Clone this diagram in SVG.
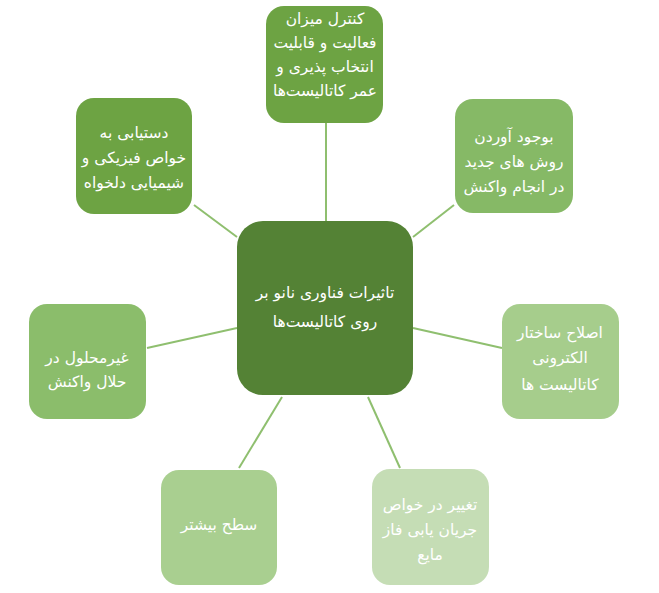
<svg xmlns="http://www.w3.org/2000/svg" width="659" height="593" viewBox="0 0 659 593">
<style>
text{font-family:"DejaVu Sans","Noto Sans",sans-serif;font-size:15.5px;fill:#ffffff;text-anchor:middle}
.c line{stroke:#8fbf6f;stroke-width:2}
</style>
<rect width="659" height="593" fill="#ffffff"/>
<g class="c" id="connectors">
<line x1="326" y1="123" x2="326" y2="221"/>
<line x1="194" y1="205" x2="237" y2="237"/>
<line x1="454" y1="205" x2="413" y2="237"/>
<line x1="147" y1="348" x2="237" y2="328"/>
<line x1="413" y1="328" x2="502" y2="348"/>
<line x1="282" y1="397" x2="239" y2="468"/>
<line x1="368" y1="397" x2="400" y2="468"/>
</g>
<g id="center">
<rect x="237" y="221" width="176" height="174" rx="26" fill="#548235"/>
<text x="325" y="298">تاثیرات فناوری نانو بر</text>
<text x="325" y="327">روی کاتالیست‌ها</text>
</g>
<g id="top">
<rect x="266" y="6" width="117" height="117" rx="18" fill="#6da343"/>
<text x="325" y="24">کنترل میزان</text>
<text x="325" y="48">فعالیت و قابلیت</text>
<text x="325" y="72">انتخاب پذیری و</text>
<text x="325" y="96">عمر کاتالیست‌ها</text>
</g>
<g id="topleft">
<rect x="76" y="98" width="116" height="116" rx="18" fill="#6da343"/>
<text x="134" y="138">دستیابی به</text>
<text x="134" y="163">خواص فیزیکی و</text>
<text x="134" y="188">شیمیایی دلخواه</text>
</g>
<g id="topright">
<rect x="455" y="99" width="118" height="114" rx="18" fill="#86b966"/>
<text x="514" y="142">بوجود آوردن</text>
<text x="514" y="167">روش های جدید</text>
<text x="514" y="192">در انجام واکنش</text>
</g>
<g id="left">
<rect x="29" y="304" width="117" height="115" rx="18" fill="#8bbd6b"/>
<text x="87" y="363">غیرمحلول در</text>
<text x="87" y="387">حلال واکنش</text>
</g>
<g id="right">
<rect x="502" y="304" width="117" height="115" rx="18" fill="#a6cd8c"/>
<text x="560" y="338">اصلاح ساختار</text>
<text x="560" y="363">الکترونی</text>
<text x="560" y="390">کاتالیست ها</text>
</g>
<g id="bottomleft">
<rect x="161" y="470" width="116" height="115" rx="18" fill="#a9cf90"/>
<text x="219" y="530">سطح بیشتر</text>
</g>
<g id="bottomright">
<rect x="372" y="469" width="117" height="116" rx="18" fill="#c5ddb5"/>
<text x="430" y="510">تغییر در خواص</text>
<text x="430" y="535">جریان یابی فاز</text>
<text x="430" y="560">مایع</text>
</g>
</svg>
